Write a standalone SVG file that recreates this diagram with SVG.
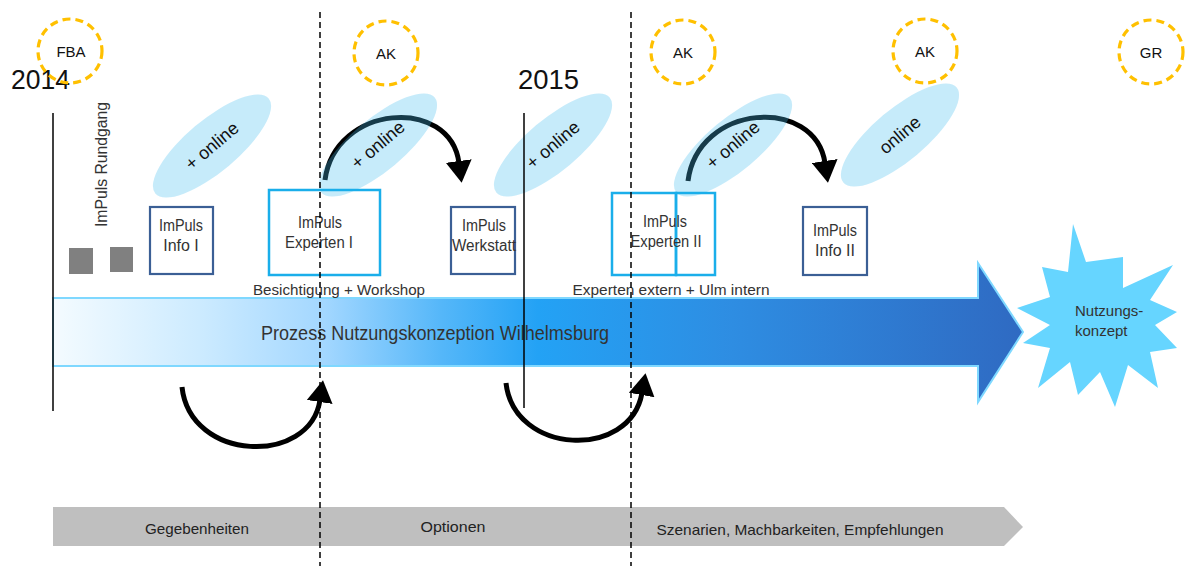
<svg xmlns="http://www.w3.org/2000/svg" width="1186" height="569" viewBox="0 0 1186 569">
<style>
  text { font-family: "Liberation Sans", "Open Sans", sans-serif; fill: #333333; }
  .circ { fill: none; stroke: #FFC000; stroke-width: 3.2; stroke-dasharray: 8 5; }
  .circt { font-size: 15px; text-anchor: middle; fill: #111; }
  .year { font-size: 27px; fill: #111; }
  .vline { stroke: #000; stroke-width: 1.5; }
  .dash { stroke: #000; stroke-width: 1.5; stroke-dasharray: 6 4; }
  .ell { fill: rgb(70,192,238); fill-opacity: 0.31; }
  .ellt { font-size: 18px; text-anchor: middle; fill: #111; }
  .boxd { fill: none; stroke: #3B5F95; stroke-width: 2.2; }
  .boxc { fill: none; stroke: #1AAEEA; stroke-width: 2.5; }
  .bt { font-size: 16px; text-anchor: middle; }
  .lbl { font-size: 15px; text-anchor: middle; }
  .bot { font-size: 15px; text-anchor: middle; fill: #222; }
  .conn { fill: none; stroke: #000; stroke-width: 5; }
</style>
<defs>
  <linearGradient id="gArrow" x1="53" y1="0" x2="1023" y2="0" gradientUnits="userSpaceOnUse">
    <stop offset="0" stop-color="#F4FBFF"/>
    <stop offset="0.15" stop-color="#CDEBFF"/>
    <stop offset="0.28" stop-color="#A3D7FF"/>
    <stop offset="0.40" stop-color="#55B7F9"/>
    <stop offset="0.50" stop-color="#23A2F5"/>
    <stop offset="0.70" stop-color="#2E8DE2"/>
    <stop offset="1" stop-color="#2F6AC2"/>
  </linearGradient>
  <marker id="head" viewBox="0 0 22 26" refX="2" refY="13" markerWidth="22" markerHeight="26" markerUnits="userSpaceOnUse" orient="auto">
    <path d="M0,0 L22,13 L0,26 z" fill="#000"/>
  </marker>
</defs>

<!-- main process arrow -->
<g id="process-arrow">
  <polygon points="53,298 978,298 978,263 1023,332 978,402 978,366 53,366" fill="url(#gArrow)" stroke="#7FD8FF" stroke-width="2"/>
  <text x="435" y="340" font-size="20" text-anchor="middle" fill="#222" textLength="348" lengthAdjust="spacingAndGlyphs">Prozess Nutzungskonzeption Wilhelmsburg</text>
</g>

<!-- phase arrow -->
<g id="phase-arrow">
  <polygon points="53,507 1004,507 1023,527 1004,546 53,546" fill="#BFBFBF"/>
  <text class="bot" x="197" y="534" textLength="104" lengthAdjust="spacingAndGlyphs">Gegebenheiten</text>
  <text class="bot" x="453" y="532" textLength="65" lengthAdjust="spacingAndGlyphs">Optionen</text>
  <text class="bot" x="800" y="535" textLength="287" lengthAdjust="spacingAndGlyphs">Szenarien, Machbarkeiten, Empfehlungen</text>
</g>

<!-- connectors (curved arrows) -->
<g id="connectors">
  <path class="conn" d="M325,180 C335,104 450,96 459,163" marker-end="url(#head)"/>
  <path class="conn" d="M688,181 C698,103 815,96 825,163" marker-end="url(#head)"/>
  <path class="conn" d="M182,387 C190,462 310,466 320,400" marker-end="url(#head)"/>
  <path class="conn" d="M506,383 C514,455 630,460 642,393" marker-end="url(#head)"/>
</g>

<!-- online ellipses -->
<g id="online-1">
  <ellipse class="ell" cx="212" cy="146" rx="74" ry="26" transform="rotate(-40 212 146)"/>
  <text class="ellt" x="212" y="152" transform="rotate(-40 212 146)">+ online</text>
</g>
<g id="online-2">
  <ellipse class="ell" cx="378" cy="145" rx="74" ry="26" transform="rotate(-40 378 145)"/>
  <text class="ellt" x="378" y="151" transform="rotate(-40 378 145)">+ online</text>
</g>
<g id="online-3">
  <ellipse class="ell" cx="553" cy="145" rx="74" ry="26" transform="rotate(-40 553 145)"/>
  <text class="ellt" x="553" y="151" transform="rotate(-40 553 145)">+ online</text>
</g>
<g id="online-4">
  <ellipse class="ell" cx="733" cy="145" rx="74" ry="26" transform="rotate(-40 733 145)"/>
  <text class="ellt" x="733" y="151" transform="rotate(-40 733 145)">+ online</text>
</g>
<g id="online-5">
  <ellipse class="ell" cx="900" cy="135" rx="74" ry="26" transform="rotate(-40 900 135)"/>
  <text class="ellt" x="900" y="141" transform="rotate(-40 900 135)">online</text>
</g>

<!-- year markers -->
<g id="year-2014">
  <text class="year" x="11" y="89" textLength="59" lengthAdjust="spacingAndGlyphs">2014</text>
  <line class="vline" x1="53" y1="113" x2="53" y2="411"/>
</g>
<g id="year-2015">
  <text class="year" x="518" y="89" textLength="61" lengthAdjust="spacingAndGlyphs">2015</text>
  <line class="vline" x1="524" y1="113" x2="524" y2="408"/>
</g>

<!-- milestone circles -->
<g id="fba">
  <circle class="circ" cx="70" cy="51" r="32"/>
  <text class="circt" x="71" y="57">FBA</text>
</g>
<g id="ak-1">
  <circle class="circ" cx="386" cy="53" r="32"/>
  <text class="circt" x="386" y="59">AK</text>
</g>
<g id="ak-2">
  <circle class="circ" cx="683" cy="52" r="32"/>
  <text class="circt" x="683" y="58">AK</text>
</g>
<g id="ak-3">
  <circle class="circ" cx="925" cy="51" r="32"/>
  <text class="circt" x="925" y="57">AK</text>
</g>
<g id="gr">
  <circle class="circ" cx="1151" cy="52" r="32"/>
  <text class="circt" x="1151" y="58">GR</text>
</g>

<!-- Rundgang -->
<g id="rundgang">
  <rect x="69" y="248" width="24" height="26" fill="#808080"/>
  <rect x="110" y="247" width="23" height="25" fill="#808080"/>
  <text x="0" y="0" font-size="16" transform="translate(107 227) rotate(-90)" textLength="125" lengthAdjust="spacingAndGlyphs">ImPuls Rundgang</text>
</g>

<!-- boxes -->
<g id="info-1">
  <rect class="boxd" x="150" y="207" width="63" height="67"/>
  <text class="bt" x="181" y="231" textLength="44" lengthAdjust="spacingAndGlyphs">ImPuls</text>
  <text class="bt" x="181" y="251">Info I</text>
</g>
<g id="experten-1">
  <rect class="boxc" x="269" y="190" width="111" height="85"/>
  <text class="bt" x="320" y="228" textLength="44" lengthAdjust="spacingAndGlyphs">ImPuls</text>
  <text class="bt" x="319" y="248" textLength="68" lengthAdjust="spacingAndGlyphs">Experten I</text>
  <text class="lbl" x="339" y="295" textLength="172" lengthAdjust="spacingAndGlyphs">Besichtigung + Workshop</text>
</g>
<g id="werkstatt">
  <rect class="boxd" x="451" y="207" width="64" height="67"/>
  <text class="bt" x="484" y="231" textLength="44" lengthAdjust="spacingAndGlyphs">ImPuls</text>
  <text class="bt" x="484" y="251" textLength="64" lengthAdjust="spacingAndGlyphs">Werkstatt</text>
</g>
<g id="experten-2">
  <rect class="boxc" x="612" y="193" width="64" height="82"/>
  <rect class="boxc" x="676" y="193" width="39" height="82"/>
  <text class="bt" x="665" y="227" textLength="44" lengthAdjust="spacingAndGlyphs">ImPuls</text>
  <text class="bt" x="666" y="247" textLength="71" lengthAdjust="spacingAndGlyphs">Experten II</text>
  <text class="lbl" x="671" y="295" textLength="197" lengthAdjust="spacingAndGlyphs">Experten extern + Ulm intern</text>
</g>
<g id="info-2">
  <rect class="boxd" x="803" y="207" width="64" height="68"/>
  <text class="bt" x="835" y="236" textLength="44" lengthAdjust="spacingAndGlyphs">ImPuls</text>
  <text class="bt" x="835" y="256">Info II</text>
</g>

<!-- result starburst -->
<g id="nutzungskonzept">
  <polygon points="1073,224 1086,262 1123,257 1123,288 1173,265 1150,300 1177,312 1155,325 1177,348 1150,352 1158,388 1128,365 1115,407 1100,372 1078,395 1070,362 1038,388 1050,348 1023,343 1050,325 1017,308 1050,297 1042,267 1068,272" fill="#66D5FF"/>
  <text x="1075" y="316" font-size="15" fill="#222">Nutzungs-</text>
  <text x="1075" y="336" font-size="15" fill="#222">konzept</text>
</g>

<!-- dashed phase separators -->
<g id="separators">
  <line class="dash" x1="320" y1="12" x2="320" y2="566"/>
  <line class="dash" x1="631" y1="12" x2="631" y2="566"/>
</g>
</svg>
